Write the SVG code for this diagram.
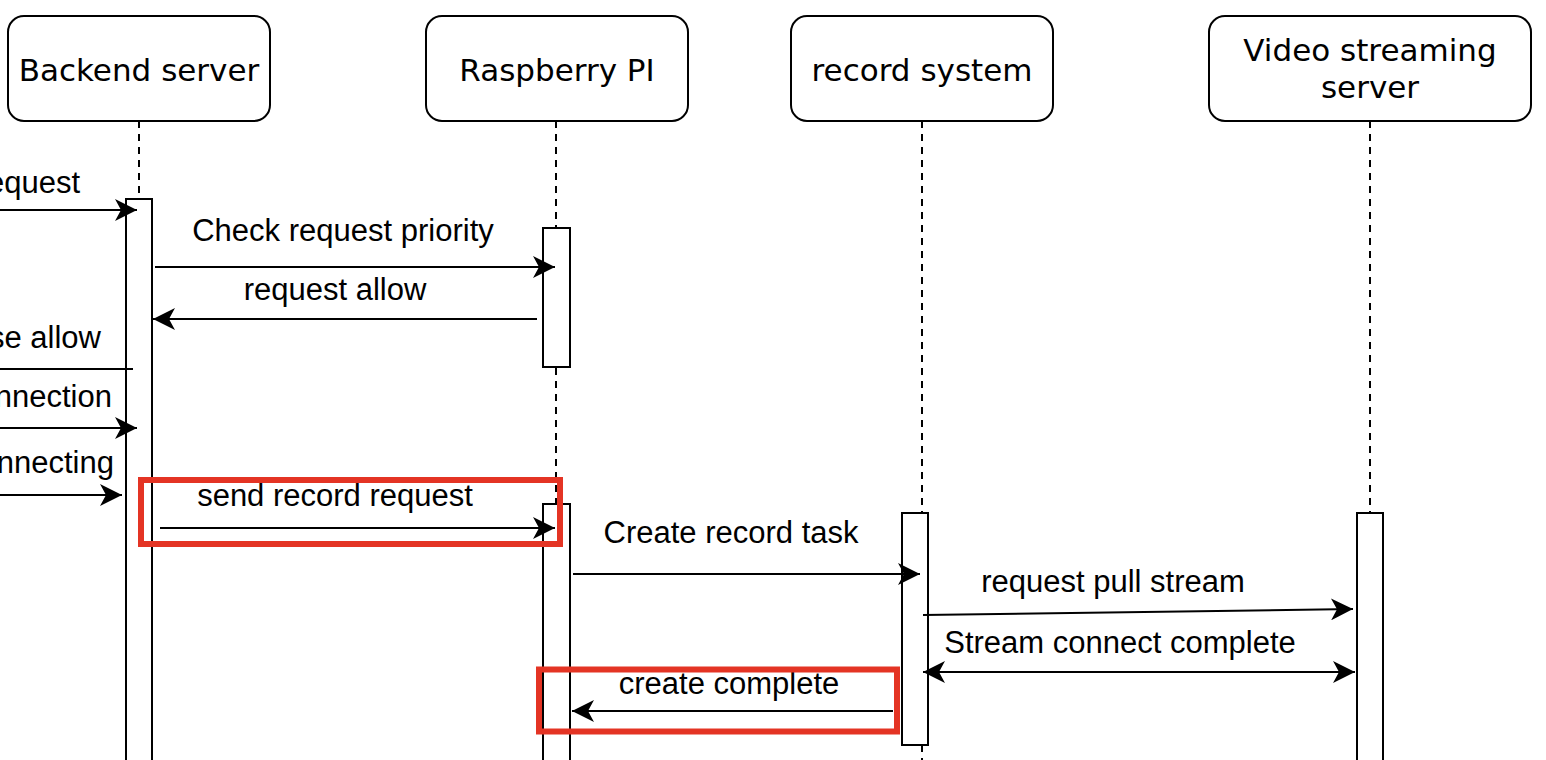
<svg xmlns="http://www.w3.org/2000/svg" width="1546" height="760" viewBox="0 0 1546 760">
<style>
.box{fill:#fff;stroke:#000;stroke-width:2}
.bar{fill:#fff;stroke:#000;stroke-width:2}
.life{stroke:#000;stroke-width:2;stroke-dasharray:7 6;fill:none}
.msg{stroke:#000;stroke-width:2;fill:none}
.arr{marker-end:url(#ah)}
.lbl{font-family:"DejaVu Sans",Verdana,sans-serif;font-size:31px;fill:#000;text-anchor:middle}
.t{font-family:"Liberation Sans",Arial,Helvetica,sans-serif;font-size:31px;fill:#000}
.red{fill:none;stroke:#E43424;stroke-width:6}
</style>
<defs>
<marker id="ah" markerUnits="userSpaceOnUse" viewBox="0 0 22 22" refX="22" refY="11" markerWidth="22" markerHeight="22" orient="auto-start-reverse">
<path d="M0,0 L22,11 L0,22 L6,11 Z" fill="#000"/>
</marker>
</defs>
<rect width="1546" height="760" fill="#fff"/>
<g id="lifelines">
<line class="life" x1="139" y1="121" x2="139" y2="199"/>
<line class="life" x1="556" y1="121" x2="556" y2="504"/>
<line class="life" x1="922" y1="121" x2="922" y2="760"/>
<line class="life" x1="1370" y1="121" x2="1370" y2="513"/>
</g>
<g id="backend">
<rect class="box" x="8" y="16" width="262" height="105" rx="16"/>
<text class="lbl" x="139" y="81">Backend server</text>
<rect class="bar" x="126" y="199" width="26" height="580"/>
</g>
<g id="raspberry">
<rect class="box" x="426" y="16" width="262" height="105" rx="16"/>
<text class="lbl" x="557" y="81">Raspberry PI</text>
<rect class="bar" x="543" y="228" width="27" height="139"/>
<rect class="bar" x="543" y="504" width="27" height="275"/>
</g>
<g id="record">
<rect class="box" x="791" y="16" width="262" height="105" rx="16"/>
<text class="lbl" x="922" y="81">record system</text>
<rect class="bar" x="902" y="513" width="26" height="232"/>
</g>
<g id="video">
<rect class="box" x="1209" y="16" width="322" height="105" rx="16"/>
<text class="lbl" x="1370" y="61">Video streaming</text>
<text class="lbl" x="1370" y="98">server</text>
<rect class="bar" x="1357" y="513" width="26" height="266"/>
</g>
<g id="connectors">
<line class="msg arr" x1="0" y1="210" x2="137" y2="210"/>
<text class="t" x="80" y="193" text-anchor="end">equest</text>
<line class="msg arr" x1="155" y1="267" x2="555" y2="267"/>
<text class="t" x="343" y="241" text-anchor="middle">Check request priority</text>
<line class="msg arr" x1="537" y1="319" x2="153" y2="319"/>
<text class="t" x="335" y="300" text-anchor="middle">request allow</text>
<line class="msg" x1="133" y1="369" x2="0" y2="369"/>
<text class="t" x="101" y="348" text-anchor="end">se allow</text>
<line class="msg arr" x1="0" y1="428" x2="137" y2="428"/>
<text class="t" x="112" y="407" text-anchor="end">nnection</text>
<line class="msg arr" x1="0" y1="495" x2="122" y2="495"/>
<text class="t" x="114" y="473" text-anchor="end">nnecting</text>
<line class="msg arr" x1="160" y1="528" x2="555" y2="528"/>
<text class="t" x="335" y="506" text-anchor="middle">send record request</text>
<line class="msg arr" x1="573" y1="574" x2="920" y2="574"/>
<text class="t" x="731" y="543" text-anchor="middle">Create record task</text>
<line class="msg arr" x1="923" y1="615" x2="1353" y2="609"/>
<text class="t" x="1113" y="592" text-anchor="middle">request pull stream</text>
<line class="msg arr" x1="923" y1="672" x2="1355" y2="672" style="marker-start:url(#ah)"/>
<text class="t" x="1120" y="653" text-anchor="middle">Stream connect complete</text>
<line class="msg arr" x1="893" y1="711" x2="572" y2="711"/>
<text class="t" x="729" y="694" text-anchor="middle">create complete</text>
</g>
<g id="highlights">
<rect class="red" x="141" y="480" width="419" height="64"/>
<rect class="red" x="539" y="669.5" width="358" height="62"/>
</g>
</svg>
